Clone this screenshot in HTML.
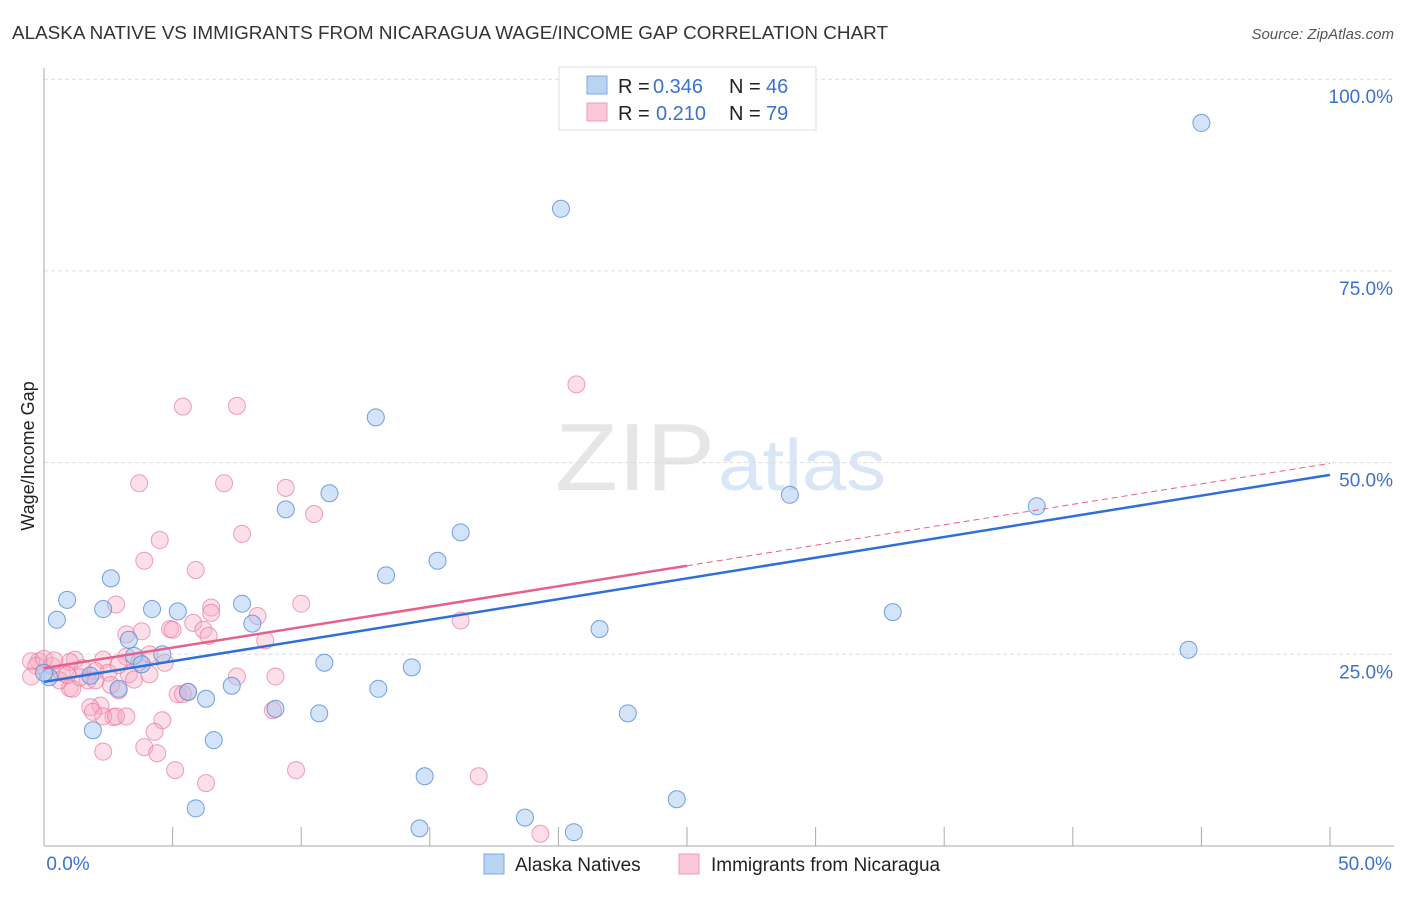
<!DOCTYPE html>
<html><head><meta charset="utf-8"><style>
body{margin:0;background:#fff;font-family:"Liberation Sans",sans-serif;}
svg text{font-family:"Liberation Sans",sans-serif;}
</style></head><body>
<svg id="c" width="1406" height="892">
<text x="12" y="39" font-size="18" fill="#333" textLength="876" lengthAdjust="spacingAndGlyphs">ALASKA NATIVE VS IMMIGRANTS FROM NICARAGUA WAGE/INCOME GAP CORRELATION CHART</text>
<text x="1394" y="39" font-size="15" fill="#555" text-anchor="end" font-style="italic">Source: ZipAtlas.com</text>
<text x="555" y="490" font-size="96" fill="#e6e6e6" textLength="160" lengthAdjust="spacingAndGlyphs" font-family="Liberation Serif">ZIP</text>
<text x="718" y="490" font-size="72" fill="#d8e6f6" textLength="168" lengthAdjust="spacingAndGlyphs">atlas</text>
<g id="grid"></g><g id="marks"></g>
<text transform="translate(34,456) rotate(-90)" font-size="18" fill="#222" text-anchor="middle">Wage/Income Gap</text>
<g>
<rect x="559" y="67" width="257" height="63" fill="#fff" stroke="#ddd"/>
<rect x="587" y="76" width="20" height="18" fill="#b9d3f3" stroke="#7fa9e0"/>
<rect x="587" y="103" width="20" height="18" fill="#f9c7d6" stroke="#ee9cb6"/>
<text x="618" y="93" font-size="20" fill="#222">R =</text>
<text x="653" y="93" font-size="20" fill="#3a72d0">0.346</text>
<text x="729" y="93" font-size="20" fill="#222">N =</text>
<text x="766" y="93" font-size="20" fill="#3a72d0">46</text>
<text x="618" y="120" font-size="20" fill="#222">R =</text>
<text x="656" y="120" font-size="20" fill="#3a72d0">0.210</text>
<text x="729" y="120" font-size="20" fill="#222">N =</text>
<text x="766" y="120" font-size="20" fill="#3a72d0">79</text>
</g>
<g>
<rect x="484" y="854" width="20" height="20" fill="#b9d3f3" stroke="#7fa9e0"/>
<text x="515" y="871" font-size="19" fill="#222">Alaska Natives</text>
<rect x="679" y="854" width="20" height="20" fill="#f9c7d6" stroke="#ee9cb6"/>
<text x="711" y="871" font-size="19" fill="#222">Immigrants from Nicaragua</text>
</g>
</svg>
<script>
const blueX=[45.0,20.1,12.9,11.1,9.4,16.2,29.0,38.6,13.3,15.3,2.6,0.9,0.5,2.3,4.2,5.2,7.7,8.1,3.3,3.5,4.6,3.8,1.8,0.2,2.9,5.6,6.3,7.3,9.0,10.7,10.9,13.0,14.3,21.6,22.7,33.0,44.5,6.6,1.9,5.9,14.8,14.6,18.7,20.6,24.6,0.0];
const blueY=[94.3,83.1,55.9,46.0,43.9,40.9,45.8,44.3,35.3,37.2,34.9,32.1,29.5,30.9,30.9,30.6,31.6,29.0,26.9,24.8,25.0,23.7,22.2,22.0,20.5,20.1,19.2,20.9,17.9,17.3,23.9,20.5,23.3,28.3,17.3,30.5,25.6,13.8,15.1,4.9,9.1,2.3,3.7,1.8,6.1,22.6];
const pinkX=[20.7,5.4,7.5,3.7,7.0,9.4,10.5,4.5,7.7,3.9,5.9,2.8,6.5,6.5,8.3,10.0,16.2,4.9,5.8,6.2,3.2,8.6,6.4,5.0,3.8,1.2,2.3,-0.2,0.3,0.7,1.5,2.0,2.5,3.3,4.1,3.5,4.7,2.9,1.7,1.0,0.6,2.6,-0.5,2.2,7.5,9.0,1.8,2.7,2.3,3.2,2.8,1.9,5.2,5.4,5.6,4.6,4.3,3.9,4.4,2.3,5.1,6.3,8.9,9.8,16.9,19.3,-0.3,0.0,1.0,0.4,3.2,3.7,2.0,1.1,-0.5,1.4,2.9,0.9,4.1];
const pinkY=[60.2,57.3,57.4,47.3,47.3,46.7,43.3,39.9,40.7,37.2,36.0,31.5,31.1,30.4,30.0,31.6,29.4,28.3,29.1,28.2,27.6,26.8,27.4,28.2,28.0,24.3,24.3,24.1,23.5,22.6,23.2,22.8,22.6,22.4,22.4,21.7,23.9,20.3,21.6,20.6,21.6,21.0,24.1,18.3,22.1,22.1,18.1,16.8,16.9,16.9,16.9,17.5,19.8,19.8,20.1,16.4,14.9,12.9,12.1,12.3,9.9,8.2,17.7,9.9,9.1,1.6,23.5,24.4,24.0,24.2,24.7,24.0,21.6,20.5,22.1,22.0,23.6,22.3,25.0];
const tickVals=[0,25,50,75,100];
const tickLabels=["","25.0%","50.0%","75.0%","100.0%"];
const blueLine=[21.4,48.4];
const pinkLine=[23.2,49.9];
const X=v=>44+v*25.72, Y=v=>846-v*7.668;
const NS="http://www.w3.org/2000/svg";
function mk(t,a,p){const e=document.createElementNS(NS,t);for(const k in a)e.setAttribute(k,a[k]);p.appendChild(e);return e;}
const g=document.getElementById('grid'),m=document.getElementById('marks');
tickVals.forEach((v,i)=>{
 if(v>0){const l=mk('line',{x1:44,x2:1394,y1:Y(v),y2:Y(v),stroke:'#ddd','stroke-dasharray':'4,3'},g);
 
 
 const t=mk('text',{x:1393,y:Y(v)+24,'font-size':19,fill:'#3a72d0','text-anchor':'end'},g);t.textContent=tickLabels[i];
 
 }
});
mk('line',{x1:44,x2:44,y1:68,y2:846,stroke:'#aaa'},g);
mk('line',{x1:44,x2:1394,y1:846,y2:846,stroke:'#aaa'},g);
for(let v=5;v<=50;v+=5){mk('line',{x1:X(v),x2:X(v),y1:827,y2:846,stroke:'#aaa'},g);}
[[0,"0.0%",68],[50,"50.0%",1365]].forEach(d=>{const t=mk('text',{x:d[2],y:870,'font-size':19,fill:'#3a72d0','text-anchor':'middle'},g);t.textContent=d[1];

});
pinkX.forEach((x,i)=>{const c=mk('circle',{cx:X(x),cy:Y(pinkY[i]),r:8.5,fill:'rgba(246,170,195,0.38)',stroke:'rgba(232,120,155,0.7)','stroke-width':1},m);

});
blueX.forEach((x,i)=>{const c=mk('circle',{cx:X(x),cy:Y(blueY[i]),r:8.5,fill:'rgba(160,196,240,0.45)',stroke:'rgba(90,145,220,0.85)','stroke-width':1},m);

});
const bl=mk('line',{x1:X(0),y1:Y(blueLine[0]),x2:X(50),y2:Y(blueLine[1]),stroke:'#2f6fd6','stroke-width':2.5},m);


const py=x=>pinkLine[0]+(pinkLine[1]-pinkLine[0])*x/50;
const pl=mk('line',{x1:X(0),y1:Y(py(0)),x2:X(25),y2:Y(py(25)),stroke:'#e8608a','stroke-width':2.5},m);


const pd=mk('line',{x1:X(25),y1:Y(py(25)),x2:X(50),y2:Y(py(50)),stroke:'#e8608a','stroke-width':1,'stroke-dasharray':'6,4'},m);


</script>
</body></html>
